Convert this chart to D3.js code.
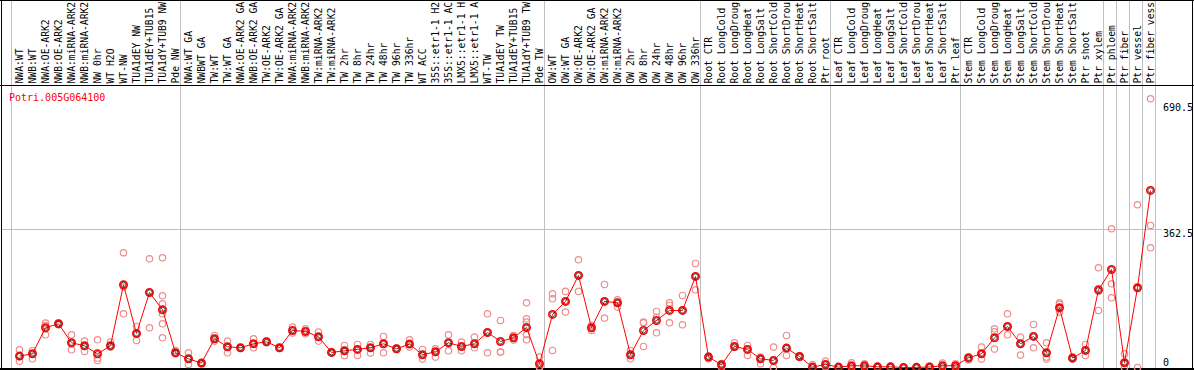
<!DOCTYPE html>
<html>
<head>
<meta charset="utf-8">
<script src="https://cdn.jsdelivr.net/npm/d3@7"></script>
<style>
  body { margin: 0; background: #fff; }
  text { font-family: "DejaVu Sans Mono", "Liberation Mono", monospace; font-size: 10px; }
  .sample { font-size: 9.7px; }
</style>
</head>
<body>
<svg id="chart" width="1194" height="370"></svg>
<script>
// gene shown in the plot
const geneId = "Potri.005G064100";

// sample names, left to right (as far as they show in the header strip)
const samples = [
  "NWA:WT", "NWB:WT", "NWA:OE-ARK2", "NWB:OE-ARK2", "NWA:miRNA-ARK2", "NWB:miRNA-ARK2",
  "NW 0hr", "WT H2O", "WT-NW", "TUA1dEY NW", "TUA1dEY+TUB15", "TUA1dY+TUB9 NW", "Pde NW",
  "NWA:WT GA", "NWBWT GA", "TW:WT", "TW:WT GA", "NWA:OE-ARK2 GA", "NWB:OE-ARK2 GA",
  "TW:OE-ARK2", "TW:OE-ARK2 GA", "NWA:miRNA-ARK2", "NWB:miRNA-ARK2", "TW:miRNA-ARK2",
  "TW:miRNA-ARK2", "TW 2hr", "TW 8hr", "TW 24hr", "TW 48hr", "TW 96hr", "TW 336hr",
  "WT ACC", "35S::etr1-1 H2", "35S::etr1-1 AC", "LMX5::etr1-1 H", "LMX5::etr1-1 A",
  "WT-TW", "TUA1dEY TW", "TUA1dEY+TUB15", "TUA1dY+TUB9 TW", "Pde TW",
  "OW:WT", "OW:WT GA", "OW:OE-ARK2", "OW:OE-ARK2 GA", "OW:miRNA-ARK2", "OW:miRNA-ARK2",
  "OW 2hr", "OW 8hr", "OW 24hr", "OW 48hr", "OW 96hr", "OW 336hr",
  "Root CTR", "Root LongCold", "Root LongDroug", "Root LongHeat", "Root LongSalt",
  "Root ShortCold", "Root ShortDrou", "Root ShortHeat", "Root ShortSalt", "Ptr root",
  "Leaf CTR", "Leaf LongCold", "Leaf LongDroug", "Leaf LongHeat", "Leaf LongSalt",
  "Leaf ShortCold", "Leaf ShortDrou", "Leaf ShortHeat", "Leaf ShortSalt", "Ptr leaf",
  "Stem CTR", "Stem LongCold", "Stem LongDroug", "Stem LongHeat", "Stem LongSalt",
  "Stem ShortCold", "Stem ShortDrou", "Stem ShortHeat", "Stem ShortSalt", "Ptr shoot",
  "Ptr xylem", "Ptr phloem", "Ptr fiber", "Ptr vessel", "Ptr fiber vess"
];

// how many samples sit in each experiment block (gray separators)
const groupSizes = [13, 28, 12, 10, 10, 11, 1, 1, 1, 1];

// mean expression per sample
const means = [
  29.7, 35.8, 103.6, 114, 64.5, 56.6, 35.8, 56.6, 215.7, 88.8, 195.7, 150.5, 38.4,
  22.7, 11.5, 74.9, 54, 51.4, 61.9, 67.1, 51.4, 96.6, 94, 80.1, 39.3, 43.6, 47.1, 51.4,
  61.9, 48.8, 61, 33.2, 41, 64.5, 54.9, 61.9, 91.4, 67.9, 77.5, 104.4, 9.7,
  138.4, 172.3, 240.1, 103.6, 172.3, 168.8, 33.2, 96.6, 122.7, 148.8, 148.8, 237.5,
  27.1, 7.1, 54.9, 47.1, 22.7, 18.4, 50.6, 28.8, 1, 8,
  1, 4.5, 4.5, 1.8, 1.8, 0, 0.4, 1.3, 4.7, 4.7,
  25.3, 35.8, 77.5, 107, 61.9, 81, 38.4, 155.7, 24.5, 44.5, 202.7,
  255.7, 12.3, 207.9, 461.8
];

// single replicate values per sample
const replicates = [
  [46.2, 29.7, 16.6], [44.5, 35.8, 22.7], [115.8, 109.7, 85.3], [115.8, 114, 111.4],
  [85.3, 64.5, 46.2], [68.8, 56.6, 41.9], [72.3, 24.5, 18.4], [66.2, 56.6, 53.2],
  [299.2, 209.7, 140.1], [107, 88.8, 70.5], [283.6, 195.7, 103.6],
  [286.2, 187, 166.2, 140.1, 114, 77.5], [44.5, 38.4, 35.8],
  [38.4, 22.7, 8], [13, 11.5, 10], [83.6, 74.9, 68.8], [68.8, 54, 38.4], [53, 51.4, 49.8],
  [74.9, 61.9, 51.4], [69, 67.1, 65], [53, 51.4, 49.8], [105.3, 96.6, 89.7], [101, 94, 88],
  [92.3, 80.1, 68.8], [41, 39.3, 37.5], [57.5, 43.6, 31.4], [60.1, 47.1, 31.4],
  [60.1, 51.4, 37.5], [81, 61.9, 38.4], [50.6, 48.8, 47.1], [72.3, 61, 53.2],
  [47.1, 33.2, 21.9], [48.8, 41, 27.1], [85.3, 64.5, 43.6], [66.2, 54.9, 43.6],
  [79.2, 61.9, 51.4], [140.1, 91.4, 38.4], [122.7, 40.1, 40.1], [83.6, 77.5, 71.5],
  [168.8, 127, 118.4, 85.3, 72.3], [27.1, 2, 0],
  [192.3, 179.2, 44.5], [198.4, 172.3, 144.5], [281, 240.1, 198.4], [109.7, 103.6, 96.6],
  [216.6, 172.3, 128.8], [176.6, 168.8, 157.5], [44.5, 33.2, 22.7], [118.3, 116.6, 54.9],
  [146.2, 131, 90.5], [168.8, 161.8, 116.6], [187.9, 148.8, 111.4], [271.4, 237.5, 202.7],
  [29.7, 27.1, 22.7], [10, 7.1, 1], [64.5, 54.9, 53.2], [57.5, 47.1, 31.4], [27.1, 22.7, 9.7],
  [53.2, 18.4, 0], [83.6, 50.6, 31.4], [31, 28.8, 26], [8, 1, 0], [16.6, 8, 2],
  [2, 1, 0], [12.3, 4.5, 0], [9.7, 4.5, 0], [3, 1.8, 0.5], [3, 1.8, 0.5],
  [0.5, 0, 0], [1, 0.4, 0], [3, 1.3, 0], [11.5, 4.7, 0], [9.7, 4.7, 0],
  [25.3, 20.1, 20], [53.2, 35.8, 21.9], [101, 93.2, 48], [140.1, 107, 85.3],
  [79.2, 61.9, 32.3], [112.3, 81, 51.4], [64.5, 27.1, 21.9], [168.8, 164.5, 144.5],
  [27.1, 24.5, 22], [60.1, 44.5, 31.4], [260.1, 199, 148.8],
  [361.8, 218.3, 181.8], [35.8, 12.3, 0], [424.4, 207.9, 0], [700.9, 370.5, 312.2]
];

// y axis tick values printed on the right
const yTicks = [0, 362.5, 690.5];

const W = 1194, H = 370;
const svg = d3.select("#chart");

// one 13px column per sample
const x = d3.scaleBand()
  .domain(d3.range(samples.length))
  .range([11, 11 + 13 * samples.length])
  .paddingInner(0).paddingOuter(0);

const y = d3.scaleLinear()
  .domain([0, 362.5])
  .range([367.5, 228.5]);

const grey = "#c0c0c0";

// group separators (from top to bottom, through the label area too)
let starts = [0];
groupSizes.forEach(n => starts.push(starts[starts.length - 1] + n));
const sepX = d => (d < samples.length ? x(d) : x(samples.length - 1) + x.bandwidth()) + 0.5;
svg.append("g").selectAll("line")
  .data(starts).enter().append("line")
  .attr("x1", sepX).attr("x2", sepX)
  .attr("y1", 0).attr("y2", H)
  .attr("stroke", grey).attr("stroke-width", 1);

// horizontal grid at the middle tick
svg.append("g").selectAll("line")
  .data(yTicks.filter(t => t > 0 && t < d3.max(yTicks))).enter().append("line")
  .attr("x1", 1).attr("x2", 1162)
  .attr("y1", d => Math.round(y(d)) + 0.5).attr("y2", d => Math.round(y(d)) + 0.5)
  .attr("stroke", grey).attr("stroke-width", 1);

// tick labels on the right side
svg.append("g").selectAll("text")
  .data(yTicks).enter().append("text")
  .attr("x", 1163)
  .attr("y", d => Math.min(y(d) + 8.5, 366))
  .attr("fill", "#000")
  .text(d => d);

// rotated sample names
svg.append("g").selectAll("text")
  .data(samples).enter().append("text")
  .attr("class", "sample")
  .attr("transform", (d, i) => "translate(" + (x(i) + 11.5) + ",83.5) rotate(-90)")
  .attr("fill", "#000")
  .text(d => d);

// frame
svg.append("line").attr("x1", 0).attr("x2", W).attr("y1", 0.5).attr("y2", 0.5).attr("stroke", "#000");
svg.append("line").attr("x1", 0).attr("x2", W).attr("y1", 85.5).attr("y2", 85.5).attr("stroke", "#000");
svg.append("line").attr("x1", 0).attr("x2", W).attr("y1", 369).attr("y2", 369).attr("stroke", "#000").attr("stroke-width", 2);
svg.append("line").attr("x1", 1.5).attr("x2", 1.5).attr("y1", 0).attr("y2", H).attr("stroke", "#000");
svg.append("line").attr("x1", 1192.5).attr("x2", 1192.5).attr("y1", 0).attr("y2", H).attr("stroke", "#000");

// gene name
svg.append("text")
  .attr("x", 9).attr("y", 100.5)
  .attr("fill", "#ff0000")
  .text(geneId);

const px = i => x(i) + 8.5;

// replicate points
const repPts = [];
replicates.forEach((arr, i) => arr.forEach(v => repPts.push({ i: i, v: v })));
svg.append("g").selectAll("circle")
  .data(repPts).enter().append("circle")
  .attr("cx", d => px(d.i))
  .attr("cy", d => y(d.v))
  .attr("r", 3.2)
  .attr("fill", "none")
  .attr("stroke", "#ee8e8e")
  .attr("stroke-width", 1.2);

// mean line
const line = d3.line()
  .x((d, i) => px(i))
  .y(d => y(d));
svg.append("path")
  .datum(means)
  .attr("d", line)
  .attr("fill", "none")
  .attr("stroke", "#ff0000")
  .attr("stroke-width", 1);

// mean markers: red ring with a thin dark inner ring
const mk = svg.append("g").selectAll("g")
  .data(means).enter().append("g")
  .attr("transform", (d, i) => "translate(" + px(i) + "," + y(d) + ")");
mk.append("circle").attr("r", 3.7).attr("fill", "none").attr("stroke", "#ff0000").attr("stroke-width", 1.6);
mk.append("circle").attr("r", 2.5).attr("fill", "none").attr("stroke", "#000").attr("stroke-width", 0.6);
</script>
</body>
</html>
